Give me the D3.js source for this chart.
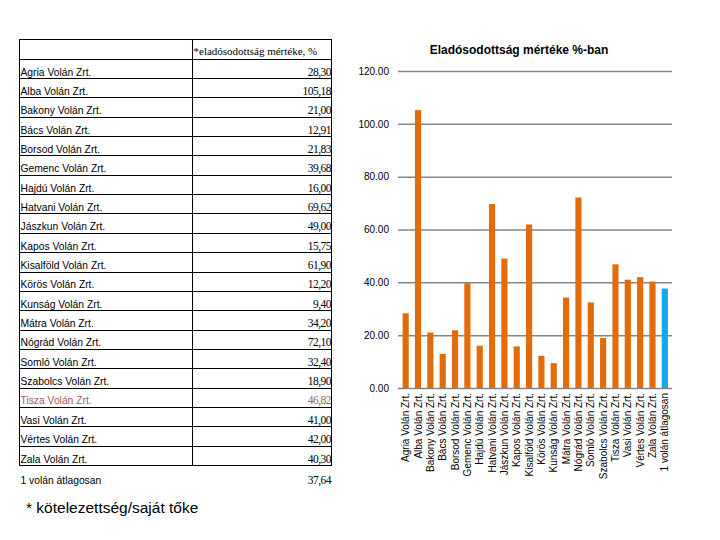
<!DOCTYPE html>
<html><head><meta charset="utf-8">
<script src="https://cdn.jsdelivr.net/npm/d3@7"></script>
<style>body{margin:0;background:#fff}svg{display:block}</style>
</head><body>
<svg id="c" width="720" height="540"></svg>
<script>
const companies = ["Agria Volán Zrt.","Alba Volán Zrt.","Bakony Volán Zrt.","Bács Volán Zrt.","Borsod Volán Zrt.","Gemenc Volán Zrt.","Hajdú Volán Zrt.","Hatvani Volán Zrt.","Jászkun Volán Zrt.","Kapos Volán Zrt.","Kisalföld Volán Zrt.","Körös Volán Zrt.","Kunság Volán Zrt.","Mátra Volán Zrt.","Nógrád Volán Zrt.","Somló Volán Zrt.","Szabolcs Volán Zrt.","Tisza Volán Zrt.","Vasi Volán Zrt.","Vértes Volán Zrt.","Zala Volán Zrt."];
const values = [28.30,105.18,21.00,12.91,21.83,39.68,16.00,69.62,49.00,15.75,61.90,12.20,9.40,34.20,72.10,32.40,18.90,46.82,41.00,42.00,40.30];
const averageLabel = "1 volán átlagosan";
const averageValue = 37.64;
const yTicks = [0,20,40,60,80,100,120];
const chartTitle = "Eladósodottság mértéke %-ban";
const tableHeader = "*eladósodottság mértéke, %";
const footnote = "* kötelezettség/saját tőke";
const highlighted = "Tisza Volán Zrt.";

const svg = d3.select("#c");
const fmtHu = v => d3.format(".2f")(v).replace(".", ",");

// ---------- Table ----------
const tL = 19.5, tM = 192.5, tR = 331.5, tTop = 39.5, hdrBottom = 58.65, rowH = 19.35;
const rowY = d3.scaleBand().domain(companies).range([hdrBottom, hdrBottom + rowH*companies.length]);
const tg = svg.append("g");
const tBottom = Math.round(hdrBottom + rowH*companies.length) + 0.5;
tg.append("rect").attr("x",tL).attr("y",tTop).attr("width",tR-tL).attr("height",tBottom-tTop)
  .attr("fill","none").attr("stroke","#000").attr("stroke-width",1);
tg.append("line").attr("x1",tM).attr("x2",tM).attr("y1",tTop).attr("y2",tBottom).attr("stroke","#000");
tg.append("line").attr("x1",tL).attr("x2",tR).attr("y1",Math.round(hdrBottom)+0.5).attr("y2",Math.round(hdrBottom)+0.5).attr("stroke","#000");
tg.append("text").attr("x",tM+1).attr("y",hdrBottom-3.5).text(tableHeader)
  .attr("font-family","Liberation Serif").attr("font-size",11).attr("fill","#000");
const rows = tg.selectAll("g.row").data(companies.map((c,i)=>({c, v: values[i]}))).join("g");
rows.append("line").attr("x1",tL).attr("x2",tR)
  .attr("y1",d=>Math.round(rowY(d.c)+rowH)+0.5).attr("y2",d=>Math.round(rowY(d.c)+rowH)+0.5).attr("stroke","#000");
rows.append("text").attr("x",tL+1).attr("y",d=>rowY(d.c)+rowH-2.5).text(d=>d.c)
  .attr("font-family","Liberation Sans").attr("font-size",10.3)
  .attr("fill",d=>d.c===highlighted?"#9b5a5a":"#000");
rows.append("text").attr("x",tR-0.5).attr("y",d=>rowY(d.c)+rowH-2.5).attr("text-anchor","end").text(d=>fmtHu(d.v))
  .attr("font-family","Liberation Serif").attr("font-size",11.5).attr("letter-spacing",-0.5)
  .attr("fill",d=>d.c===highlighted?"#9b5a5a":"#000");
tg.append("text").attr("x",tL+1).attr("y",tBottom+18).text(averageLabel)
  .attr("font-family","Liberation Sans").attr("font-size",10.3).attr("fill","#000");
tg.append("text").attr("x",tR-0.5).attr("y",tBottom+18).attr("text-anchor","end").text(fmtHu(averageValue))
  .attr("font-family","Liberation Serif").attr("font-size",11.5).attr("letter-spacing",-0.5).attr("fill","#000");
svg.append("text").attr("x",26).attr("y",513).text(footnote)
  .attr("font-family","Liberation Sans").attr("font-size",15.5).attr("fill","#000");

// ---------- Chart ----------
const labels = companies.concat([averageLabel]);
const chartVals = values.concat([averageValue]);
const x = d3.scaleBand().domain(labels).range([399.5, 671]).paddingInner(0.5).paddingOuter(0.25);
const y = d3.scaleLinear().domain([0,120]).range([388, 71]);
const gx0 = 398, gx1 = 672;

const cg = svg.append("g");
const yAxis = d3.axisLeft(y).tickValues(yTicks).tickFormat(d3.format(".2f")).tickSize(-(gx1-gx0)).tickPadding(9);
const ya = cg.append("g").attr("transform",`translate(${gx0},0)`).call(yAxis);
ya.select(".domain").remove();
ya.selectAll(".tick line").attr("stroke","#868686").attr("stroke-width",1.5);
ya.selectAll(".tick text").attr("font-family","Liberation Sans").attr("font-size",10).attr("fill","#000");

cg.selectAll("rect.bar").data(labels.map((l,i)=>({l, v: chartVals[i]}))).join("rect")
  .attr("x",d=>x(d.l)).attr("width",x.bandwidth())
  .attr("y",d=>y(d.v)).attr("height",d=>y(0)-y(d.v))
  .attr("fill",d=>d.l===averageLabel?"#13a9ec":"#e36c0a");

const xAxis = d3.axisBottom(x).tickSize(0).tickPadding(0);
const xa = cg.append("g").attr("transform",`translate(0,${y(0)})`).call(xAxis);
xa.select(".domain").remove();
xa.selectAll(".tick text").attr("font-family","Liberation Sans").attr("font-size",10).attr("fill","#000")
  .attr("transform","rotate(-90)").attr("text-anchor","end").attr("x",-5).attr("y",0).attr("dy","0.35em");

svg.append("text").attr("x",519).attr("y",54).attr("text-anchor","middle").text(chartTitle)
  .attr("font-family","Liberation Sans").attr("font-weight","bold").attr("font-size",12).attr("fill","#000");
</script>
</body></html>
